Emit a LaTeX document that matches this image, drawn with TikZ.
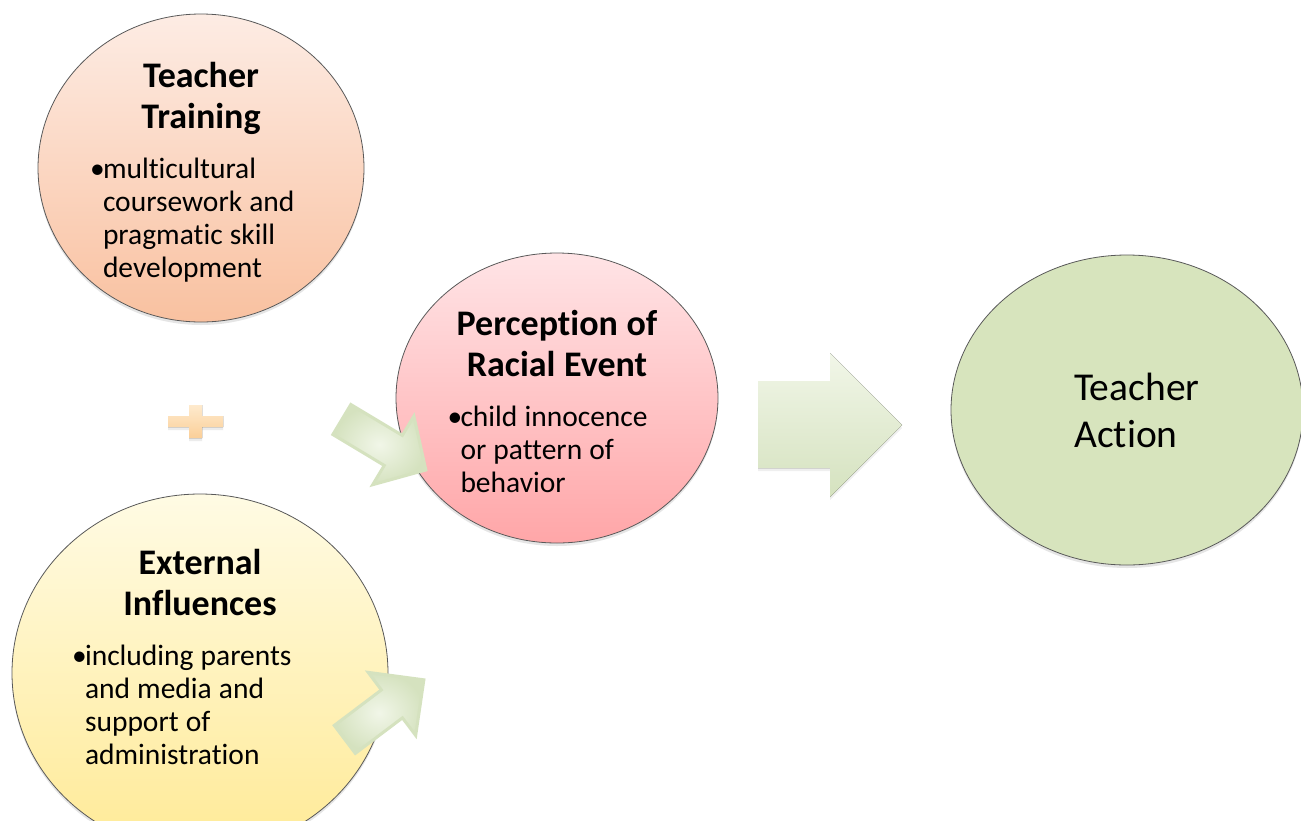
\documentclass[tikz,border=0pt]{standalone}
\usepackage{fontspec}
\setmainfont{Carlito}[Ligatures={NoCommon}]
\usetikzlibrary{shapes.geometric,shadows}

\definecolor{trainTop}{RGB}{253,236,228}
\definecolor{trainBot}{RGB}{249,193,160}
\definecolor{percTop}{RGB}{255,228,230}
\definecolor{percBot}{RGB}{255,166,168}
\definecolor{extTop}{RGB}{255,251,228}
\definecolor{extBot}{RGB}{255,234,150}
\definecolor{actFill}{RGB}{215,228,189}
\definecolor{arrLight}{RGB}{241,246,232}
\definecolor{arrDark}{RGB}{213,226,191}
\definecolor{plusLight}{RGB}{254,234,205}
\definecolor{plusDark}{RGB}{251,207,152}

\newcommand{\headfont}{\fontsize{36}{41}\selectfont\bfseries\spaceskip=.24em}
\newcommand{\bodyfont}{\fontsize{29.5}{33}\selectfont\spaceskip=.24em}
\newcommand{\bul}{\makebox[11pt][c]{\textbullet}}
\newcommand{\ind}{\hspace*{11pt}}

\begin{document}
\begin{tikzpicture}[x=1pt, y=-1pt,
	bubble/.style={ellipse, draw=black!65, line width=.8pt, inner sep=0pt,
		drop shadow={shadow xshift=0pt, shadow yshift=-3pt, opacity=.2}},
	bubbletext/.style={inner sep=0pt},
	blockarrow/.style={draw=arrDark, line width=3pt, line join=miter, inner color=arrLight, outer color=arrDark}]
	\useasboundingbox (0,0) rectangle (1301,820);
	\fill[white] (0,0) rectangle (1301,820);
	\clip (0,0) rectangle (1301,820);

	\node[bubble, top color=trainTop, bottom color=trainBot, minimum width=326pt, minimum height=308pt] (train) at (201,168) {};
	\node[bubble, top color=percTop, bottom color=percBot, minimum width=322pt, minimum height=290pt] (perc) at (557,398) {};
	\node[bubble, top color=extTop, bottom color=extBot, minimum width=376pt, minimum height=358pt] (ext) at (200,673) {};
	\node[bubble, fill=actFill, minimum width=352pt, minimum height=310pt] (act) at (1127,410) {};

	\node[bubbletext, text width=218pt] (trainText) at (201,172) {%
		{\centering\headfont Teacher\\Training\par}\vspace{17pt}
		{\raggedright\bodyfont\bul multicultural\\\ind coursework and\\\ind pragmatic skill\\\ind development\par}};
	\node[bubbletext, text width=215pt] (percText) at (557,401) {%
		{\centering\headfont Perception of\\Racial Event\par}\vspace{17pt}
		{\raggedright\bodyfont\bul child innocence\\\ind or pattern of\\\ind behavior\par}};
	\node[bubbletext, text width=252pt] (extText) at (200,657) {%
		{\centering\headfont External\\Influences\par}\vspace{17pt}
		{\raggedright\bodyfont\bul including parents\\\ind and media and\\\ind support of\\\ind administration\par}};
	\node[bubbletext, align=left, anchor=west, font={\fontsize{39.5}{47}\selectfont}] (actText) at (1074,410) {Teacher\\Action};

	\fill[top color=plusLight, bottom color=plusDark, drop shadow={shadow xshift=0pt, shadow yshift=-3pt, opacity=.15}]
		(189,405) -- (202,405) -- (202,416) -- (223,416) -- (223,427) -- (202,427) -- (202,438)
		-- (189,438) -- (189,427) -- (168,427) -- (168,416) -- (189,416) -- cycle;

	\begin{scope}[shift={(341,419)}, rotate=-31]
		\path[blockarrow] (1,-17.5) -- (61,-17.5) -- (61,-40) -- (99,0) -- (61,40) -- (61,17.5) -- (1,17.5) -- cycle;
	\end{scope}
	\begin{scope}[shift={(344,740)}, rotate=37]
		\path[blockarrow] (1,-17.5) -- (60,-17.5) -- (60,-39.5) -- (100,0) -- (60,39.5) -- (60,17.5) -- (1,17.5) -- cycle;
	\end{scope}

	\fill[top color=arrLight, bottom color=arrDark, drop shadow={shadow xshift=0pt, shadow yshift=-3pt, opacity=.12}]
		(758,381) -- (830,381) -- (830,353) -- (902,425) -- (830,497) -- (830,468) -- (758,468) -- cycle;
\end{tikzpicture}
\end{document}
